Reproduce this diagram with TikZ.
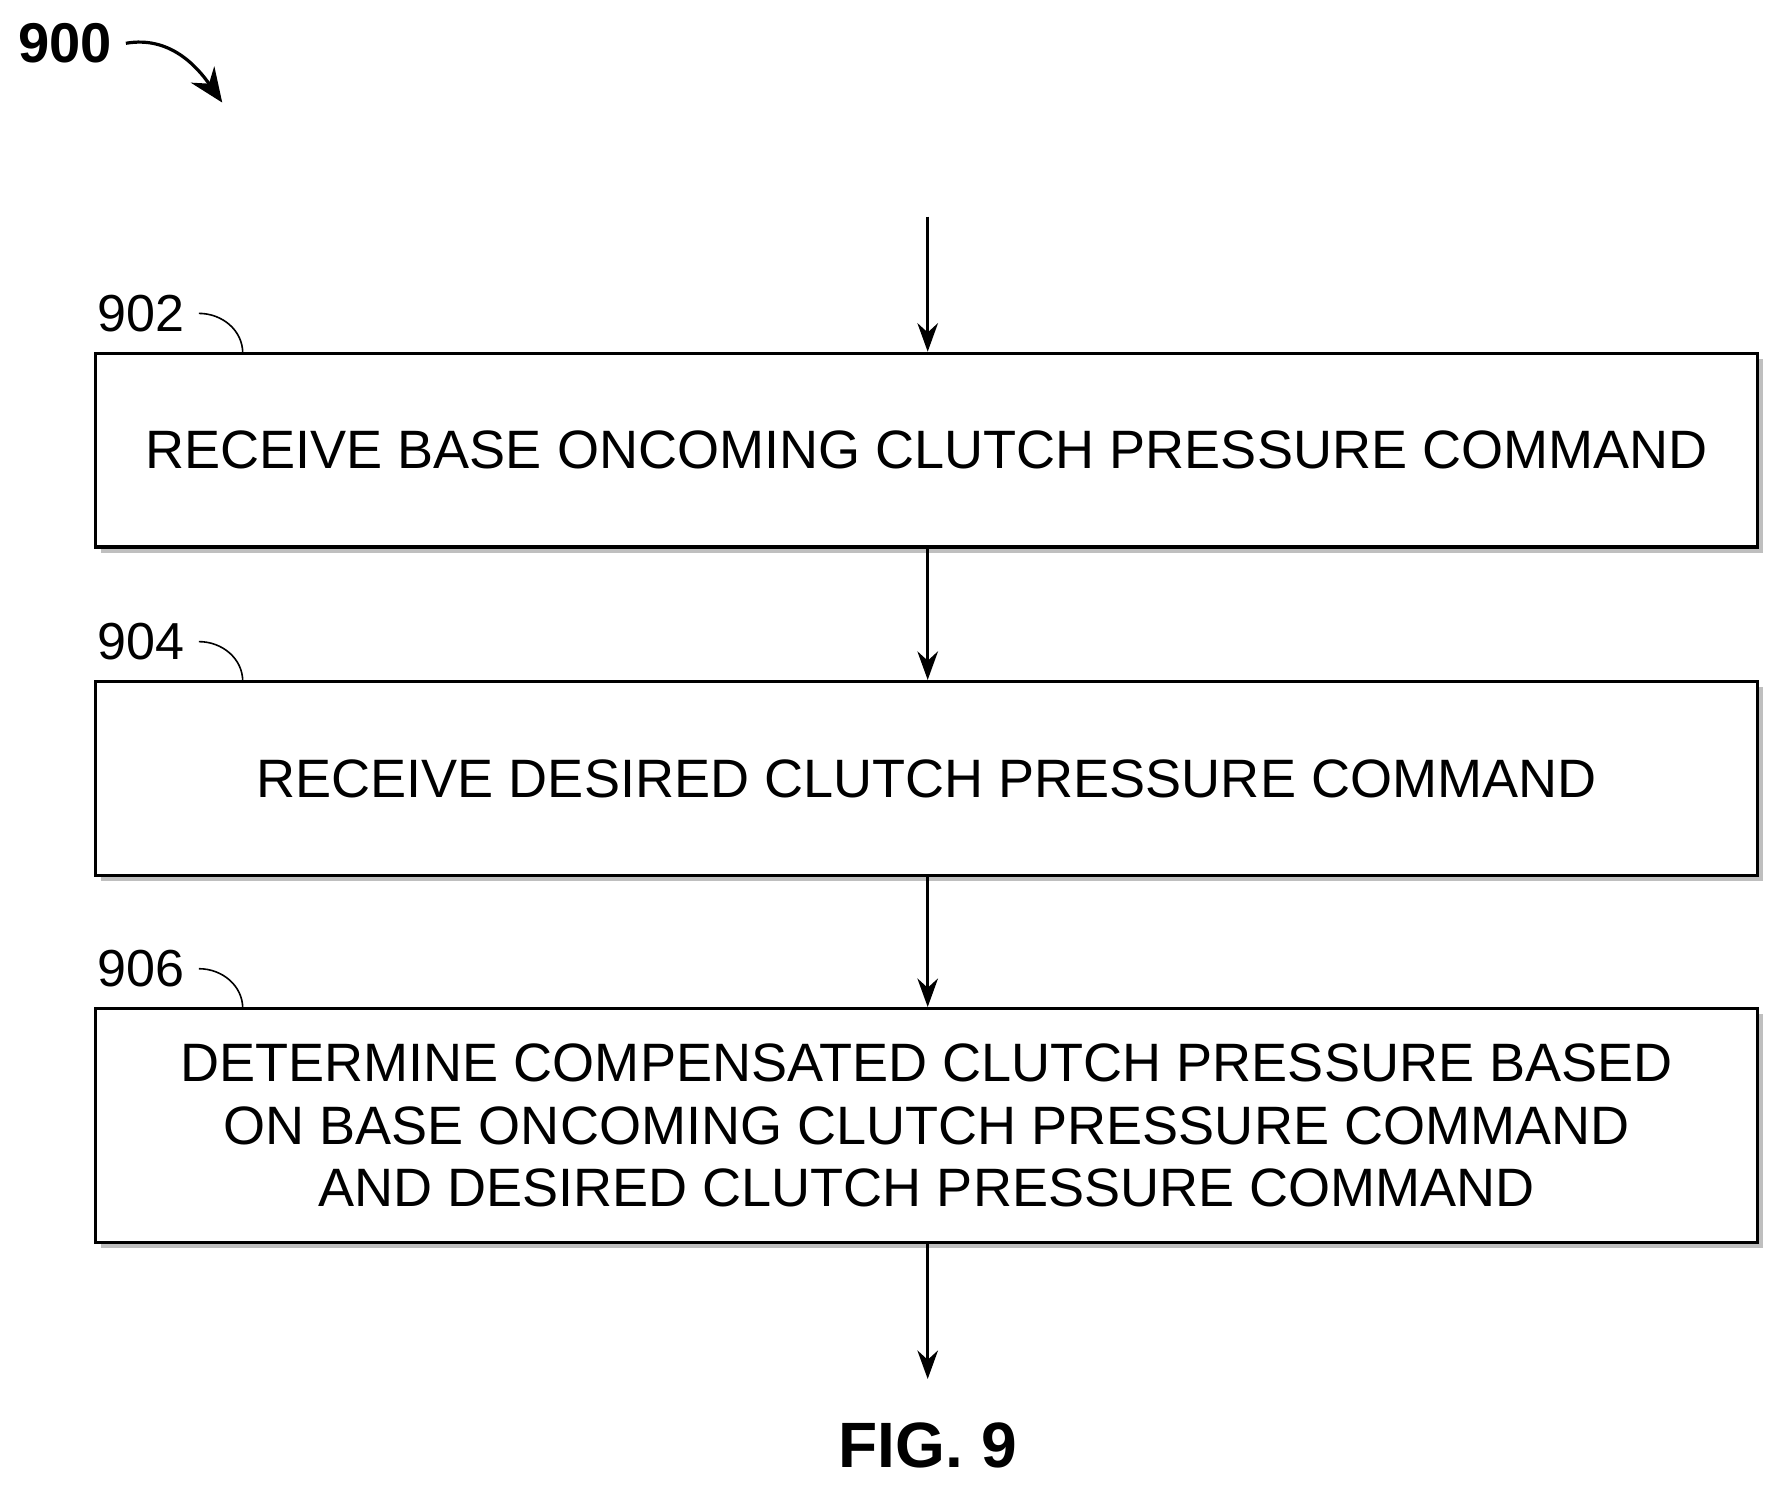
\documentclass[tikz,border=0pt]{standalone}
\usepackage{fontspec}
\setmainfont{Liberation Sans}
\usetikzlibrary{arrows.meta,positioning,shadows}
\tikzset{
  stepbox/.style={draw, thick, fill=white, minimum width=14.58cm, align=center,
    font=\fontsize{13.5}{15.5}\selectfont, drop shadow={shadow xshift=0.05cm, shadow yshift=-0.05cm, fill=gray}},
  flow/.style={-{Stealth[length=0.25cm,width=0.18cm]}, thick},
  lbl/.style={font=\fontsize{13}{15}\selectfont},
}
\begin{document}
\begin{tikzpicture}
    \useasboundingbox (0,0) rectangle (15.68,-13.06);
    \node[stepbox, minimum height=1.7cm] (902) at (8.13,-3.95) {RECEIVE BASE ONCOMING CLUTCH PRESSURE COMMAND};
    \node[stepbox, minimum height=1.7cm] (904) at (8.13,-6.83) {RECEIVE DESIRED CLUTCH PRESSURE COMMAND};
    \node[stepbox, minimum height=2.05cm] (906) at (8.13,-9.875) {DETERMINE COMPENSATED CLUTCH PRESSURE BASED\\ON BASE ONCOMING CLUTCH PRESSURE COMMAND\\AND DESIRED CLUTCH PRESSURE COMMAND};
    \coordinate (start) at (8.14,-1.9);
    \coordinate (end) at (8.14,-12.1);
    \draw [flow] (start) -- (902.north -| start);
    \draw [flow] (902.south -| start) -- (904.north -| start);
    \draw [flow] (904.south -| start) -- (906.north -| start);
    \draw [flow] (906.south -| start) -- (end);
    % step labels
    \node[lbl] (l902) at (1.24,-2.75) {902};
    \node[lbl] (l904) at (1.24,-5.63) {904};
    \node[lbl] (l906) at (1.24,-8.5) {906};
    \draw (l902.east) to[out=0, in=90] (2.13,-3.1);
    \draw (l904.east) to[out=0, in=90] (2.13,-5.98);
    \draw (l906.east) to[out=0, in=90] (2.13,-8.85);
    % figure labels
    \node[font=\bfseries\fontsize{14}{16}\selectfont] (fig) at (0.57,-0.38) {900};
    \coordinate (figtip) at (1.95,-0.9);
    \draw [-{Stealth[length=0.3cm,width=0.25cm]}, thick] (fig.east) to[out=10, in=125] (figtip);
    \node[font=\bfseries\fontsize{16}{19}\selectfont] (title) at (8.14,-12.68) {FIG. 9};
\end{tikzpicture}
\end{document}
